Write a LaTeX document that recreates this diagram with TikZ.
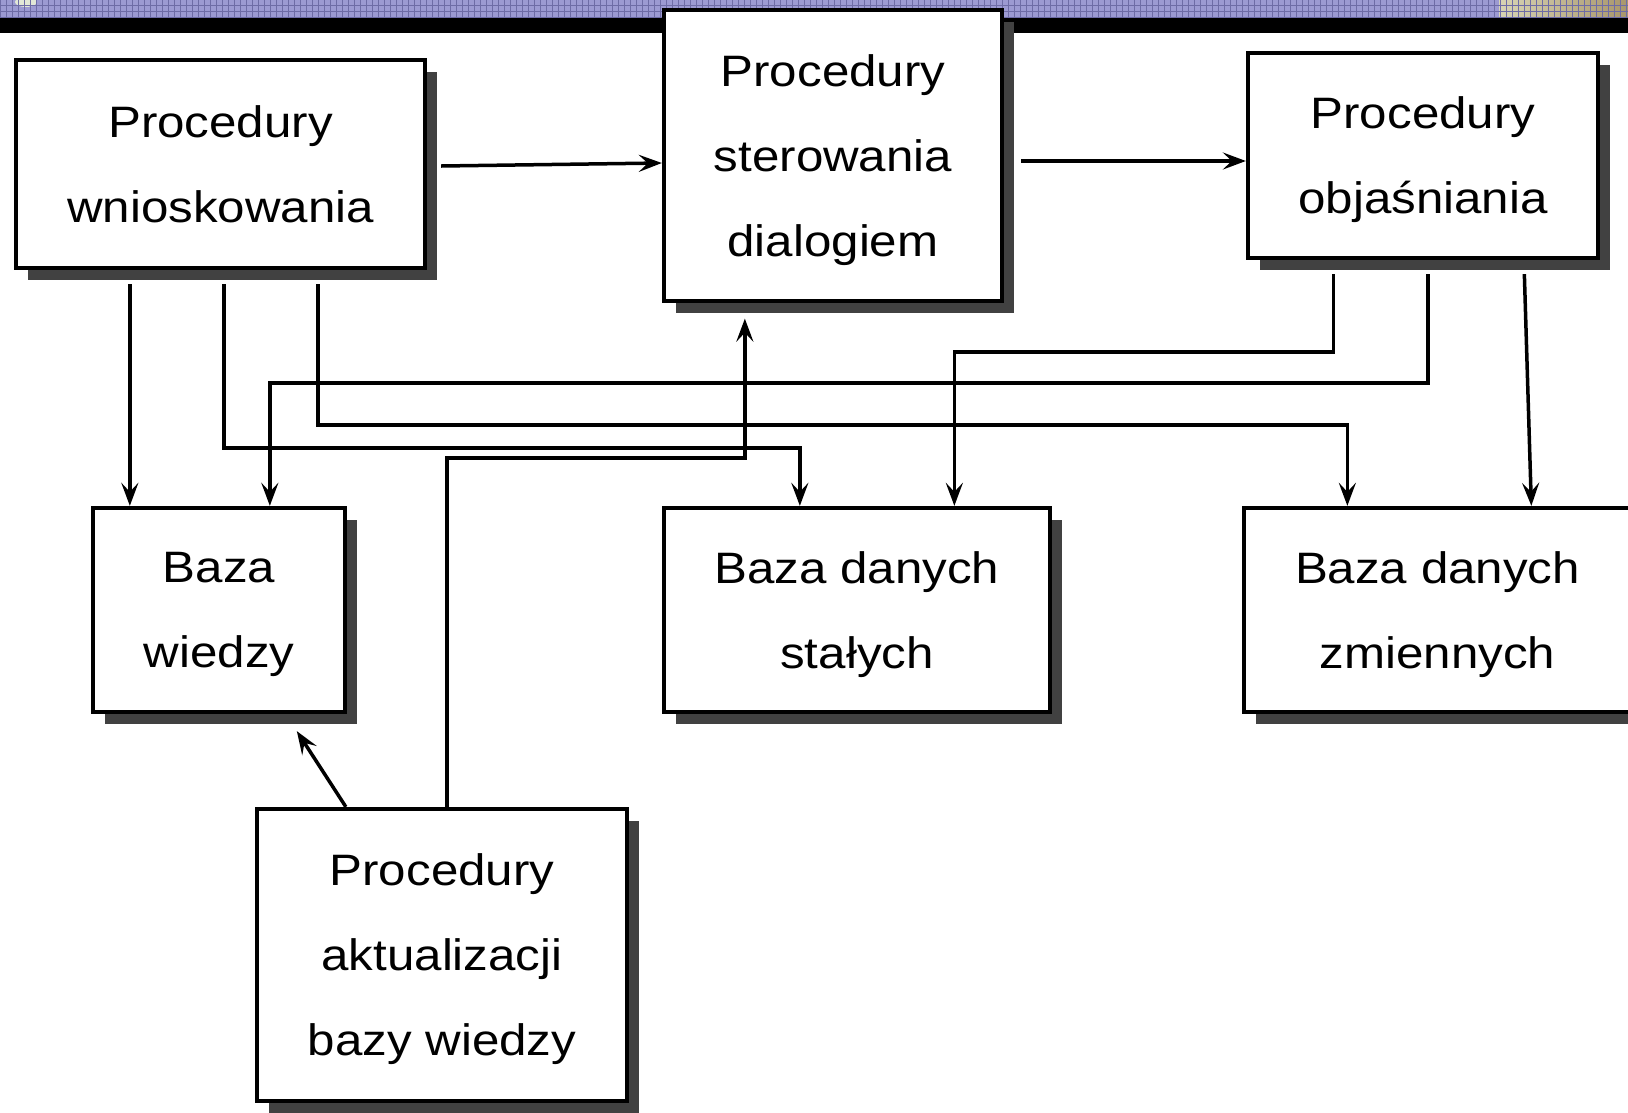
\documentclass[tikz,border=0pt]{standalone}
\usepackage{fontspec}
\setmainfont{Liberation Sans}[FakeStretch=1.12]
\usetikzlibrary{arrows.meta,shadows,calc}
\definecolor{bandpurple}{HTML}{9C9AD2}
\definecolor{bandline}{HTML}{6E6CA6}
\definecolor{bandbeige}{HTML}{D8D4B4}
\definecolor{bandbrown}{HTML}{A8966C}
\definecolor{shadowgray}{HTML}{414141}
\definecolor{blobgray}{HTML}{E2E8D6}

\begin{document}
\begin{tikzpicture}[x=1pt,y=-1pt,
  box/.style={draw, line width=3.8pt, fill=white, rectangle, inner sep=0pt,
    align=center, font=\fontsize{44}{85}\selectfont, text depth=0pt,
    general shadow={fill=shadowgray, shadow xshift=12pt, shadow yshift=-12pt}},
  link/.style={line width=3.5pt},
  arr/.style={link, -{Stealth[length=23pt,width=17pt,inset=9pt]}}
]
\useasboundingbox (0,0) rectangle (1628,1112);
\fill[white] (0,0) rectangle (1628,1112);

% header band: tiled strip over a black rule
\fill[bandpurple] (0,0) rectangle (1499,18);
\shade[left color=bandbeige, right color=bandbrown] (1499,0) rectangle (1628,18);
\fill[blobgray] (26,2) ellipse [x radius=11pt, y radius=5pt];
\foreach \x in {0,6,...,1626} \draw[bandline, line width=0.9pt] (\x,0) -- (\x,18);
\foreach \y in {5,11,17} \draw[bandline, line width=0.9pt] (0,\y) -- (1628,\y);
\fill[black] (0,18) rectangle (1628,33);

% boxes
\node[box, minimum width=409.5pt, minimum height=208.5pt] (b1) at (220.5,164) {Procedury\\wnioskowania};
\node[box, minimum width=338.5pt, minimum height=291.5pt] (b2) at (833,155.5) {Procedury\\sterowania\\dialogiem};
\node[box, minimum width=350.5pt, minimum height=205.5pt] (b3) at (1423,155.5) {Procedury\\objaśniania};
\node[box, minimum width=252.5pt, minimum height=204.5pt] (b4) at (219,610) {Baza\\wiedzy};
\node[box, minimum width=386.5pt, minimum height=204.5pt] (b5) at (857,610) {Baza danych\\stałych};
\node[box, minimum width=386.5pt, minimum height=204.5pt] (b6) at (1437.5,610) {Baza danych\\zmiennych};
\node[box, minimum width=370.5pt, minimum height=292.5pt] (b7) at (442,955) {Procedury\\aktualizacji\\bazy wiedzy};

% routing levels of the long connectors
\coordinate (lvA) at (0,352);
\coordinate (lvB) at (0,383);
\coordinate (lvC) at (0,425);
\coordinate (lvD) at (0,448);
\coordinate (lvE) at (0,458);

% top row
\draw[arr] ($(b1.east)+(14,2)$) -- ($(b2.west)+(0,7.5)$);
\draw[arr] ($(b2.east)+(17,5.5)$) -- ($(b3.west)+(0,5.5)$);

% from the inference procedures
\coordinate (p1) at ($(b1.south west)+(116,14)$);
\coordinate (p2) at ($(b1.south west)+(210,14)$);
\coordinate (p3) at ($(b1.south west)+(304,14)$);
\draw[arr] (p1) -- (p1 |- b4.north);
\draw[arr] (p2) -- (p2 |- lvD) -| ($(b5.north west)+(138,0)$);
\draw[arr] (p3) -- (p3 |- lvC) -| ($(b6.north west)+(105,0)$);

% from the explanation procedures
\coordinate (q1) at ($(b3.south west)+(87.5,14)$);
\coordinate (q2) at ($(b3.south west)+(182,14)$);
\coordinate (q3) at ($(b3.south west)+(278.5,14)$);
\draw[arr] (q1) -- (q1 |- lvA) -| ($(b5.north west)+(292.5,0)$);
\draw[arr] (q2) -- (q2 |- lvB) -| ($(b4.north west)+(179,0)$);
\draw[arr] (q3) -- ($(b6.north west)+(289,0)$);

% from the knowledge-base update procedures
\coordinate (r1) at ($(b7.north west)+(91,0)$);
\coordinate (r2) at ($(b7.north west)+(192,0)$);
\draw[arr] (r1) -- ($(b4.south west)+(206,17)$);
\draw[arr] (r2) -- (r2 |- lvE) -| ($(b2.south west)+(83,15.5)$);
\end{tikzpicture}
\end{document}
